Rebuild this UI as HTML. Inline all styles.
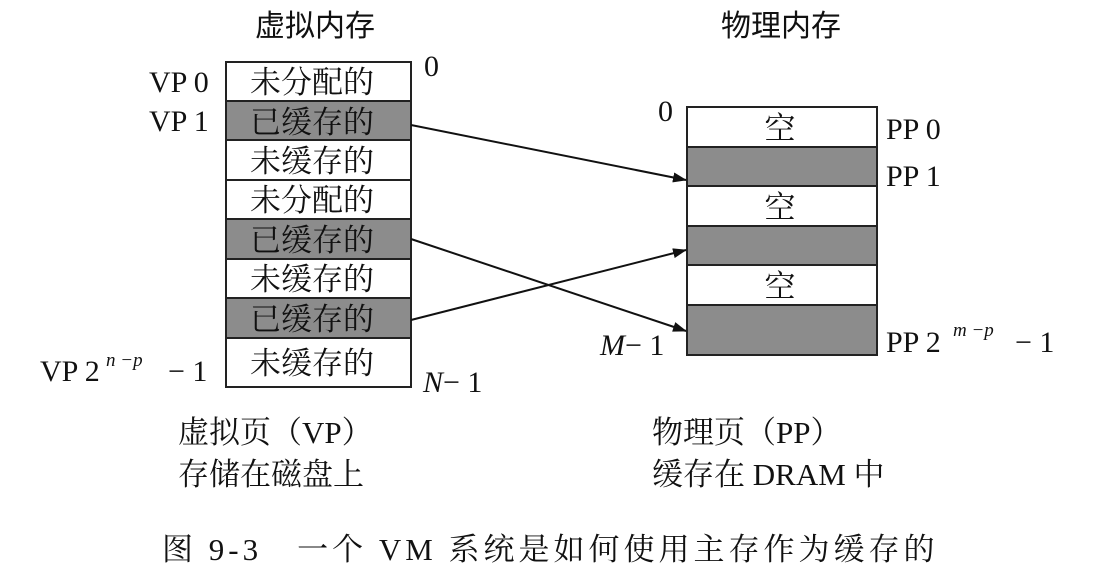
<!DOCTYPE html>
<html><head><meta charset="utf-8"><style>
body{margin:0;background:#fff;}
</style></head><body>
<svg width="1102" height="580" xmlns="http://www.w3.org/2000/svg" font-family="'Liberation Serif','Noto Serif CJK SC',serif" fill="#111">
<defs><marker id="a" markerWidth="14" markerHeight="10" refX="13" refY="5" orient="auto" markerUnits="userSpaceOnUse"><path d="M0,0 L14,5 L0,10 z" fill="#111"/></marker></defs>
<g font-size="30" font-family="'Noto Sans CJK SC',sans-serif">
<text x="315" y="36" text-anchor="middle">虚拟内存</text>
<text x="781" y="36" text-anchor="middle">物理内存</text>
</g>
<g stroke="#222" stroke-width="2">
<rect x="226" y="62" width="185" height="39" fill="#fff"/>
<rect x="226" y="101" width="185" height="39" fill="#8c8c8c"/>
<rect x="226" y="140" width="185" height="40" fill="#fff"/>
<rect x="226" y="180" width="185" height="39" fill="#fff"/>
<rect x="226" y="219" width="185" height="40" fill="#8c8c8c"/>
<rect x="226" y="259" width="185" height="39" fill="#fff"/>
<rect x="226" y="298" width="185" height="40" fill="#8c8c8c"/>
<rect x="226" y="338" width="185" height="49" fill="#fff"/>
</g>
<g font-size="31" text-anchor="middle">
<text x="312" y="93">未分配的</text>
<text x="312" y="133">已缓存的</text>
<text x="312" y="172">未缓存的</text>
<text x="312" y="211">未分配的</text>
<text x="312" y="251">已缓存的</text>
<text x="312" y="290">未缓存的</text>
<text x="312" y="330">已缓存的</text>
<text x="312" y="374">未缓存的</text>
</g>
<g font-size="30">
<text x="149" y="92">VP 0</text>
<text x="149" y="131">VP 1</text>
<text x="40" y="381">VP 2</text>
<text x="106" y="366" font-size="19" font-style="italic">n −p</text>
<text x="168" y="381">− 1</text>
<text x="424" y="76">0</text>
<text x="423" y="392"><tspan font-style="italic">N</tspan>− 1</text>
</g>
<g stroke="#222" stroke-width="2">
<rect x="687" y="107" width="190" height="40" fill="#fff"/>
<rect x="687" y="147" width="190" height="39" fill="#8c8c8c"/>
<rect x="687" y="186" width="190" height="40" fill="#fff"/>
<rect x="687" y="226" width="190" height="39" fill="#8c8c8c"/>
<rect x="687" y="265" width="190" height="40" fill="#fff"/>
<rect x="687" y="305" width="190" height="50" fill="#8c8c8c"/>
</g>
<g font-size="31" text-anchor="middle">
<text x="780" y="139">空</text>
<text x="780" y="218">空</text>
<text x="780" y="297">空</text>
</g>
<g font-size="30">
<text x="658" y="121">0</text>
<text x="886" y="139">PP 0</text>
<text x="886" y="186">PP 1</text>
<text x="886" y="352">PP 2</text>
<text x="953" y="336" font-size="19" font-style="italic">m −p</text>
<text x="1015" y="352">− 1</text>
<text x="600" y="355"><tspan font-style="italic">M</tspan>− 1</text>
</g>
<g stroke="#111" stroke-width="2" fill="none">
<line x1="411" y1="125" x2="686" y2="180" marker-end="url(#a)"/>
<line x1="411" y1="239" x2="686" y2="331" marker-end="url(#a)"/>
<line x1="411" y1="320" x2="686" y2="250" marker-end="url(#a)"/>
</g>
<g font-size="31">
<text x="178" y="443">虚拟页（VP）</text>
<text x="178" y="485">存储在磁盘上</text>
<text x="652" y="443">物理页（PP）</text>
<text x="652" y="485">缓存在 DRAM 中</text>
</g>
<text x="162" y="560" font-size="31" letter-spacing="4">图 9-3　一个 VM 系统是如何使用主存作为缓存的</text>
</svg>
</body></html>
